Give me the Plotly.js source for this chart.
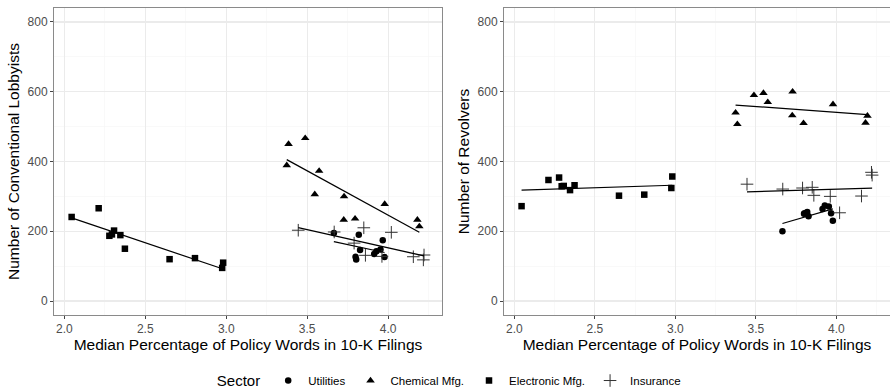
<!DOCTYPE html>
<html>
<head>
<meta charset="utf-8">
<script src="https://cdn.plot.ly/plotly-3.0.1.min.js"></script>
<style>html,body{margin:0;padding:0;background:#fff;}#chart{width:890px;height:392px;}</style>
</head>
<body>
<div id="chart"></div>
<script>
// ---- data ----
const sectors = ["Utilities", "Chemical Mfg.", "Electronic Mfg.", "Insurance"];

const utilX     = [3.665, 3.799, 3.803, 3.819, 3.827, 3.914, 3.928, 3.953, 3.967, 3.978];
const utilLobby = [195, 127, 119, 190, 146, 135, 143, 148, 174, 126];
const utilRev   = [200, 250, 252, 255, 243, 264, 274, 271, 252, 230];

const chemX     = [3.374, 3.385, 3.488, 3.547, 3.574, 3.726, 3.728, 3.796, 3.979, 4.181, 4.193];
const chemLobby = [389, 450, 467, 306, 373, 233, 300, 236, 278, 233, 214];
const chemRev   = [540, 507, 590, 596, 570, 532, 600, 510, 564, 511, 531];

const elecX     = [2.045, 2.212, 2.278, 2.294, 2.307, 2.346, 2.374, 2.650, 2.807, 2.975, 2.981];
const elecLobby = [241, 266, 187, 191, 202, 189, 150, 120, 123, 95, 110];
const elecRev   = [272, 347, 354, 329, 330, 318, 332, 302, 305, 324, 357];

const insX      = [3.445, 3.667, 3.790, 3.850, 3.860, 3.962, 4.020, 4.156, 4.218, 4.222];
const insLobby  = [203, 198, 166, 210, 131, 128, 197, 127, 118, 132];
const insRev    = [335, 321, 324, 326, 303, 300, 253, 301, 369, 361];

const xTitle = "Median Percentage of Policy Words in 10-K Filings";
const yTitleLeft = "Number of Conventional Lobbyists";
const yTitleRight = "Number of Revolvers";

// ---- styles ----
const FONT = "Liberation Sans, Arial, Helvetica, sans-serif";
const markerStyles = [
  {symbol: "circle", size: 6.5, color: "#000"},
  {symbol: "triangle-up", size: 7.5, color: "#000"},
  {symbol: "square", size: 6.5, color: "#000"},
  {symbol: "cross-thin", size: 9, color: "#333", line: {color: "#333", width: 1}}
];

function fitLine(xs, ys) {
  const n = xs.length;
  const mx = xs.reduce((a, b) => a + b, 0) / n;
  const my = ys.reduce((a, b) => a + b, 0) / n;
  let sxy = 0, sxx = 0;
  for (let i = 0; i < n; i++) { sxy += (xs[i] - mx) * (ys[i] - my); sxx += (xs[i] - mx) ** 2; }
  const b = sxy / sxx, a = my - b * mx;
  const x0 = Math.min(...xs), x1 = Math.max(...xs);
  return {x: [x0, x1], y: [a + b * x0, a + b * x1]};
}

const groups = [
  {x: utilX, left: utilLobby, right: utilRev},
  {x: chemX, left: chemLobby, right: chemRev},
  {x: elecX, left: elecLobby, right: elecRev},
  {x: insX, left: insLobby, right: insRev}
];

const traces = [];
groups.forEach((g, i) => {
  const ms = markerStyles[i];
  const mk = {symbol: ms.symbol, size: ms.size, color: ms.color, line: ms.line || {width: 0}};
  traces.push({type: "scatter", mode: "markers", x: g.x, y: g.left, xaxis: "x", yaxis: "y",
    name: sectors[i], marker: mk, showlegend: true, legendgroup: sectors[i], hoverinfo: "skip"});
  traces.push({type: "scatter", mode: "markers", x: g.x, y: g.right, xaxis: "x2", yaxis: "y2",
    name: sectors[i], marker: mk, showlegend: false, legendgroup: sectors[i], hoverinfo: "skip"});
});
groups.forEach((g) => {
  const fl = fitLine(g.x, g.left);
  traces.push({type: "scatter", mode: "lines", x: fl.x, y: fl.y, xaxis: "x", yaxis: "y",
    line: {color: "#000", width: 1.2}, showlegend: false, hoverinfo: "skip"});
  const fr = fitLine(g.x, g.right);
  traces.push({type: "scatter", mode: "lines", x: fr.x, y: fr.y, xaxis: "x2", yaxis: "y2",
    line: {color: "#000", width: 1.2}, showlegend: false, hoverinfo: "skip"});
});

function xAxis(domain, anchor) {
  return {
    domain: domain, anchor: anchor, range: [1.936, 4.333],
    tick0: 2, dtick: 0.5, tickformat: ".1f",
    showgrid: true, gridcolor: "#ebebeb", gridwidth: 1.1,
    minor: {tick0: 2, dtick: 0.25, showgrid: true, gridcolor: "#f5f5f5", gridwidth: 0.6},
    showline: true, mirror: true, linecolor: "#8a8a8a", linewidth: 1,
    ticks: "outside", ticklen: 3, tickcolor: "#444", tickwidth: 1,
    tickfont: {family: FONT, size: 12, color: "#4d4d4d"},
    zeroline: false,
    title: {text: xTitle, font: {family: FONT, size: 15.5, color: "#000"}, standoff: 3}
  };
}
function yAxis(anchor, title) {
  return {
    anchor: anchor, range: [-40, 840],
    tick0: 0, dtick: 200,
    showgrid: true, gridcolor: "#ebebeb", gridwidth: 1.1,
    minor: {tick0: 0, dtick: 100, showgrid: true, gridcolor: "#f5f5f5", gridwidth: 0.6},
    showline: true, mirror: true, linecolor: "#8a8a8a", linewidth: 1,
    ticks: "outside", ticklen: 3, tickcolor: "#444", tickwidth: 1,
    tickfont: {family: FONT, size: 12, color: "#4d4d4d"},
    zeroline: false,
    title: {text: title, font: {family: FONT, size: 15.5, color: "#000"}, standoff: 4}
  };
}

const layout = {
  width: 890, height: 392,
  margin: {l: 54, r: 0, t: 8, b: 77},
  paper_bgcolor: "#fff", plot_bgcolor: "#fff",
  font: {family: FONT},
  xaxis: xAxis([0, 0.4641], "y"),
  yaxis: yAxis("x", yTitleLeft),
  xaxis2: xAxis([0.5383, 1], "y2"),
  yaxis2: yAxis("x2", yTitleRight),
  showlegend: true,
  legend: {
    orientation: "h", xref: "container", yref: "container",
    x: 0.506, xanchor: "center", y: 0.028, yanchor: "middle",
    title: {text: "Sector", side: "left", font: {family: FONT, size: 15, color: "#000"}},
    font: {family: FONT, size: 11.5, color: "#000"},
    bgcolor: "rgba(0,0,0,0)", itemclick: false, itemdoubleclick: false
  }
};

Plotly.newPlot("chart", traces, layout, {displayModeBar: false, staticPlot: true});
</script>
</body>
</html>
